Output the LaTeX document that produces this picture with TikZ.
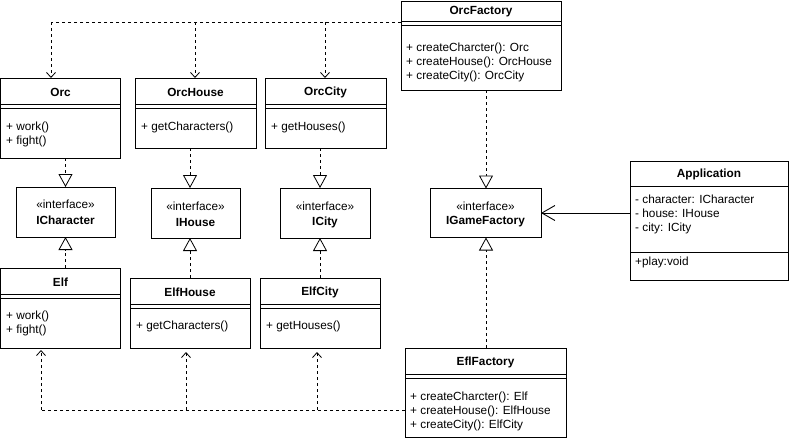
\documentclass[tikz,border=0pt]{standalone}
\usepackage{fontspec}
\setmainfont{Liberation Sans}
\usetikzlibrary{arrows.meta}
\begin{document}
\begin{tikzpicture}[x=1pt,y=-1pt,
  font=\fontsize{11.8}{14}\selectfont,
  box/.style={draw,line width=0.9pt,anchor=north west,inner sep=0,outer sep=0},
  ttl/.style={font=\fontsize{11.8}{14}\selectfont\bfseries,inner sep=0,anchor=center},
  txt/.style={inner sep=0,anchor=west},
  ctr/.style={inner sep=0,anchor=center},
  sep/.style={line width=0.9pt},
  dep/.style={line width=0.8pt,dash pattern=on 3pt off 3pt,-{Straight Barb[length=5pt,width=9pt,line width=0.8pt]}},
  real/.style={line width=0.8pt,dash pattern=on 3pt off 3pt,-{Triangle[open,length=13pt,width=14pt,line width=0.8pt,fill=white]}},
  dline/.style={line width=0.8pt,dash pattern=on 3pt off 3pt},
  assoc/.style={line width=0.9pt,-{Straight Barb[length=13pt,width=15pt,line width=0.9pt]}}
]
\useasboundingbox (0,0) rectangle (791,442);

% OrcFactory
\node[box,minimum width=160pt,minimum height=89pt] (orcf) at (401,1) {};
\node[ttl] (orcft) at (481,12) {OrcFactory};
\draw[sep] (401,21) -- (561,21) (401,25) -- (561,25);
\node[txt] (orcf1) at (406,48) {+ createCharcter(): Orc};
\node[txt] (orcf2) at (406,62) {+ createHouse(): OrcHouse};
\node[txt] (orcf3) at (406,76) {+ createCity(): OrcCity};

% Orc
\node[box,minimum width=120pt,minimum height=80pt] (orc) at (0.5,78) {};
\node[ttl] (orct) at (60.5,92) {Orc};
\draw[sep] (0.5,104) -- (120.5,104) (0.5,108) -- (120.5,108);
\node[txt] (orc1) at (6,127) {+ work()};
\node[txt] (orc2) at (6,141) {+ fight()};

% OrcHouse
\node[box,minimum width=121pt,minimum height=70pt] (orch) at (135,78) {};
\node[ttl] (orcht) at (195.5,92) {OrcHouse};
\draw[sep] (135,104) -- (256,104) (135,108) -- (256,108);
\node[txt] (orch1) at (141,127) {+ getCharacters()};

% OrcCity
\node[box,minimum width=121pt,minimum height=70pt] (orcc) at (265,78) {};
\node[ttl] (orcct) at (325.5,92) {OrcCity};
\draw[sep] (265,104) -- (386,104) (265,108) -- (386,108);
\node[txt] (orcc1) at (271,127) {+ getHouses()};

% Interfaces
\node[box,minimum width=99pt,minimum height=50pt] (ichar) at (16,187) {};
\node[ctr] (ichar1) at (65.5,204) {«interface»};
\node[ttl] (ichar2) at (65.5,220) {ICharacter};

\node[box,minimum width=89pt,minimum height=50pt] (ihouse) at (151,188) {};
\node[ctr] (ihouse1) at (195.5,206) {«interface»};
\node[ttl] (ihouse2) at (195.5,222) {IHouse};

\node[box,minimum width=90pt,minimum height=50pt] (icity) at (280,188) {};
\node[ctr] (icity1) at (325,206) {«interface»};
\node[ttl] (icity2) at (325,222) {ICity};

\node[box,minimum width=111pt,minimum height=49pt] (igf) at (430,188.5) {};
\node[ctr] (igf1) at (485.5,206) {«interface»};
\node[ttl] (igf2) at (485.5,222) {IGameFactory};

% Application
\node[box,minimum width=158pt,minimum height=119pt] (app) at (630,161) {};
\node[ttl] (appt) at (709,174) {Application};
\draw[sep] (630,186) -- (788,186);
\node[txt] (app1) at (635,199) {- character: ICharacter};
\node[txt] (app2) at (635,213) {- house: IHouse};
\node[txt] (app3) at (635,228) {- city: ICity};
\draw[sep] (630,252) -- (788,252);
\node[txt] (app4) at (635,262) {+play:void};

% Elf
\node[box,minimum width=120pt,minimum height=80pt] (elf) at (0.5,268) {};
\node[ttl] (elft) at (60.5,282) {Elf};
\draw[sep] (0.5,294) -- (120.5,294) (0.5,298) -- (120.5,298);
\node[txt] (elf1) at (6,316) {+ work()};
\node[txt] (elf2) at (6,330) {+ fight()};

% ElfHouse
\node[box,minimum width=120pt,minimum height=70pt] (elfh) at (130,278) {};
\node[ttl] (elfht) at (190,292) {ElfHouse};
\draw[sep] (130,304) -- (250,304) (130,308) -- (250,308);
\node[txt] (elfh1) at (136,326) {+ getCharacters()};

% ElfCity
\node[box,minimum width=120pt,minimum height=70pt] (elfc) at (260,278) {};
\node[ttl] (elfct) at (320,292) {ElfCity};
\draw[sep] (260,304) -- (380,304) (260,308) -- (380,308);
\node[txt] (elfc1) at (266,326) {+ getHouses()};

% EflFactory
\node[box,minimum width=161pt,minimum height=89pt] (elff) at (405,348) {};
\node[ttl] (elfft) at (485.5,362) {EflFactory};
\draw[sep] (405,374) -- (566,374) (405,378) -- (566,378);
\node[txt] (elff1) at (410,397) {+ createCharcter(): Elf};
\node[txt] (elff2) at (410,411) {+ createHouse(): ElfHouse};
\node[txt] (elff3) at (410,425) {+ createCity(): ElfCity};

% junction coordinates
\coordinate (j1) at (51,22);
\coordinate (j2) at (195,22);
\coordinate (j3) at (325,22);
\coordinate (k1) at (41,410);
\coordinate (k2) at (186,410);
\coordinate (k3) at (317,410);

% OrcFactory dependencies
\draw[dline] (orcf.west |- j1) -- (j1);
\draw[dep] (j1) -- (orc.north -| j1);
\draw[dep] (j2) -- (orch.north -| j2);
\draw[dep] (j3) -- (orcc.north -| j3);

% EflFactory dependencies
\draw[dline] (elff.west |- k1) -- (k1);
\draw[dep,shorten >=2pt] (k1) -- (elf.south -| k1);
\draw[dep,shorten >=4pt] (k2) -- (elfh.south -| k2);
\draw[dep,shorten >=4pt] (k3) -- (elfc.south -| k3);

% Realizations
\draw[real] (orc.south -| ichar1) -- (ichar.north -| ichar1);
\draw[real] (elf.north -| ichar1) -- (ichar.south -| ichar1);
\coordinate (h) at (190,0);
\coordinate (c) at (320,0);
\coordinate (g) at (486,0);
\draw[real] (orch.south -| h) -- (ihouse.north -| h);
\draw[real] (elfh.north -| h) -- (ihouse.south -| h);
\draw[real] (orcc.south -| c) -- (icity.north -| c);
\draw[real] (elfc.north -| c) -- (icity.south -| c);
\draw[real] (orcf.south -| g) -- (igf.north -| g);
\draw[real] (elff.north -| g) -- (igf.south -| g);

% Association
\draw[assoc] (app.west |- app2) -- (igf.east |- app2);
\end{tikzpicture}
\end{document}
